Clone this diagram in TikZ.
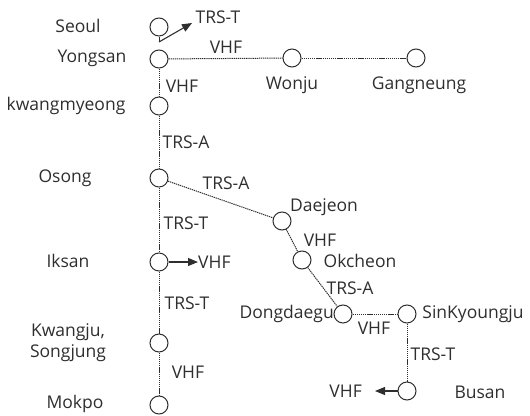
\documentclass[tikz,border=0pt]{standalone}
\usepackage{fontspec}
\setmainfont{Open Sans}
\usetikzlibrary{arrows.meta}
\definecolor{ink}{HTML}{2E2E2E}
\tikzset{
  st/.style={circle,draw=ink,line width=1pt,minimum size=18pt,inner sep=0pt},
  lbl/.style={text=ink,font=\fontsize{17.5}{21}\selectfont,inner sep=0pt},
  link/.style={draw=ink,line width=1pt,dash pattern=on 1.3pt off 0.8pt},
  arr/.style={draw=ink,line width=1.1pt,-{Triangle[length=10pt,width=8pt]}}
}
\begin{document}
\begin{tikzpicture}[x=1pt,y=-1pt]
\useasboundingbox (0,0) rectangle (530,415);
% stations
\node[st] (seoul) at (159,27) {};
\node[st] (yongsan) at (159,59) {};
\node[st] (kwang) at (159,106) {};
\node[st] (osong) at (159,178) {};
\node[st] (iksan) at (159,262) {};
\node[st] (kwangju) at (159,343) {};
\node[st] (mokpo) at (159,405) {};
\node[st] (wonju) at (292,58) {};
\node[st] (gang) at (416,58) {};
\node[st] (daejeon) at (282,221) {};
\node[st] (okcheon) at (302,260) {};
\node[st] (dong) at (343,314) {};
\node[st] (sink) at (407,314) {};
\node[st] (busan) at (407,391) {};
% station names
\node[lbl] (lseoul) at (78,26) {Seoul};
\node[lbl] (lyong) at (92,58) {Yongsan};
\node[lbl] (lkwang) at (66,106) {kwangmyeong};
\node[lbl] (losong) at (65,178) {Osong};
\node[lbl] (liksan) at (68,261) {Iksan};
\node[lbl,align=center] (lkwangju) at (68,343) {Kwangju,\\Songjung};
\node[lbl] (lmokpo) at (75,404) {Mokpo};
\node[lbl] (lwonju) at (292,85) {Wonju};
\node[lbl] (lgang) at (419,85) {Gangneung};
\node[lbl] (ldae) at (324,207) {Daejeon};
\node[lbl] (lok) at (360,261) {Okcheon};
\node[lbl,anchor=east] (ldong) at (334,314) {Dongdaegu};
\node[lbl] (lsink) at (473,314) {SinKyoungju};
\node[lbl] (lbusan) at (480,392) {Busan};
% links
\draw[link] (yongsan) -- (wonju);
\draw[link] (wonju) -- (gang);
\draw[link] (yongsan) -- (kwang);
\draw[link] (kwang) -- (osong);
\draw[link] (osong) -- (iksan);
\draw[link] (iksan) -- (kwangju);
\draw[link] (kwangju) -- (mokpo);
\draw[link] (osong) -- (daejeon);
\draw[link] (daejeon) -- (okcheon);
\draw[link] (okcheon) -- (dong);
\draw[link] (dong) -- (sink);
\draw[link] (sink) -- (busan);
% link labels
\node[lbl] (t1) at (226,47) {VHF};
\node[lbl] (t2) at (182,86) {VHF};
\node[lbl] (t3) at (186,142) {TRS-A};
\node[lbl] (t4) at (226,183) {TRS-A};
\node[lbl] (t5) at (186,223) {TRS-T};
\node[lbl] (t6) at (187,303) {TRS-T};
\node[lbl] (t7) at (188,372) {VHF};
\node[lbl] (t8) at (320,240) {VHF};
\node[lbl] (t9) at (350,288) {TRS-A};
\node[lbl] (t10) at (374,328) {VHF};
\node[lbl] (t11) at (433,354) {TRS-T};
% arrows
\coordinate (sbr) at (159,42);
\node[lbl] (oseoul) at (218,17) {TRS-T};
\draw[ink,line width=1pt] (seoul.south) -- (sbr);
\draw[arr] (sbr) -- (192,23);
\node[lbl,anchor=west] (oiksan) at (198,262) {VHF};
\draw[arr] (iksan) -- (oiksan.west);
\node[lbl,anchor=east] (obusan) at (362,391) {VHF};
\draw[arr] (busan) -- ([xshift=13pt]obusan.east);
\end{tikzpicture}
\end{document}
